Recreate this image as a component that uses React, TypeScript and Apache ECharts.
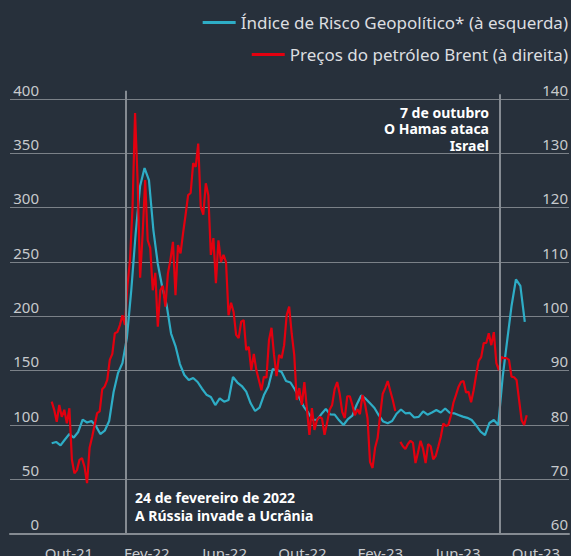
import React, { useEffect, useRef } from "react";
import * as echarts from "echarts";

// ---- data ----
const gprName = "Índice de Risco Geopolítico* (à esquerda)";
const brentName = "Preços do petróleo Brent (à direita)";
const xTickLabels = ["Out-21", "Fev-22", "Jun-22", "Out-22", "Fev-23", "Jun-23", "Out-23"];
const seriesStart = "2021-10-30";
const gprStepDays = 7;
const brentStepDays = 4;

// Geopolitical risk index (left axis), weekly
const gprValues = [
  83.2, 84.4, 81.2, 86.7, 91.7, 88.5, 93.6, 105, 102.3, 103.7,
  99.1, 91.7, 94.8, 103.7, 130.4, 147.9, 157, 180, 224, 276.7,
  320, 336.5, 325.4, 279.4, 248.2, 227, 210.4, 184.2, 172.7, 156.1,
  146, 141.4, 143.3, 139.6, 133.4, 127.9, 125.8, 118.4, 124.6, 121.5,
  123, 144.2, 139.1, 135.9, 130.7, 120, 112.9, 116.1, 127.6, 135.4,
  151.5, 150.6, 148.8, 140.5, 139.1, 132.7, 125.1, 117, 111.5, 104.9,
  104.6, 110.1, 114.7, 109.7, 109.6, 104.3, 100, 105.5, 108.6, 118.9,
  127.2, 124.2, 120.1, 115.7, 108.8, 103.2, 101.7, 103.7, 110.4, 114.3,
  110.8, 111.1, 106.9, 107.5, 112.5, 109.5, 111.5, 113.8, 111.5, 115.2,
  111.3, 110.8, 109.2, 107.7, 106.6, 104.6, 99.6, 94, 90.8, 101.9,
  104.6, 100, 144.2, 177.3, 209.5, 234, 228, 195,
];

// Brent oil price, USD (right axis), every 4 days
const brentValues = [
  84.3, 82.8, 80.6, 83.7, 81.5, 82.8, 80.3, 83.1, 73.6, 71.1,
  71.7, 73.6, 73.9, 72.3, 69.3, 75.8, 77.8, 80.0, 82.2, 82.5,
  86.6, 87.1, 88.3, 92.0, 93.1, 96.9, 97.1, 98.4, 100.2, 98.4,
  105.8, 110.4, 120.1, 137.4, 125.1, 107.1, 115.2, 125.1, 114.0, 112.6,
  104.8, 108.0, 98.1, 104.8, 105.6, 101.8, 107.9, 110.4, 113.7, 103.9,
  113.1, 111.6, 115.3, 118.7, 122.3, 122.7, 128.2, 127.5, 131.8, 120.2,
  118.7, 124.5, 122.3, 111.3, 114.4, 106.1, 114.0, 110.0, 111.3, 110.0,
  100.2, 102.5, 100.8, 96.6, 96.0, 99.0, 99.3, 93.8, 94.4, 90.1,
  93.1, 90.1, 88.3, 86.4, 88.9, 88.7, 95.6, 97.9, 92.9, 89.0,
  92.9, 92.3, 94.7, 100.2, 101.8, 96.8, 92.9, 84.6, 86.8, 83.7,
  87.9, 83.1, 78.2, 83.1, 79.1, 80.9, 81.5, 81.2, 78.2, 80.4,
  82.8, 83.7, 86.6, 87.9, 85.7, 82.4, 81.3, 85.3, 85.3, 83.7,
  81.8, 82.9, 82.0, 85.5, 83.9, 81.3, 73.2, 72.1, 75.8, 77.6,
  81.8, 85.7, 86.8, 88.1, 86.3, 84.6, 82.6, null, 76.9, 76.1,
  75.6, 76.5, 77.1, 76.7, 73.0, 75.0, 77.1, 75.6, 73.0, 76.5,
  76.1, 73.7, 74.3, 76.0, 77.8, 80.3, 79.8, 80.0, 81.7, 84.1,
  85.5, 87.0, 87.9, 88.1, 86.0, 86.1, 84.2, 86.4, 89.2, 91.8,
  92.5, 95.1, 95.1, 96.9, 94.7, 97.1, 91.4, 90.1, 92.5, 92.3,
  92.3, 92.0, 88.9, 88.8, 88.3, 84.6, 80.9, 80.0, 81.8,
];

const events = [
  { date: "2022-02-24", text: "24 de fevereiro de 2022\nA Rússia invade a Ucrânia" },
  { date: "2023-10-07", text: "7 de outubro\nO Hamas ataca\nIsrael" },
];

// ---- styling ----
const BG = "#27303b";
const BLUE = "#2eadc6";
const RED = "#e3000f";
const GRID = "#7b8188";
const VLINE = "#858b92";
const LABEL = "#c7cacd";
const FONT = "'Noto Sans', 'Open Sans', sans-serif";
const DAY = 86400000;

const toTs = (s: string) => {
  const [y, m, d] = s.split("-").map(Number);
  return Date.UTC(y, m - 1, d);
};

export default function App() {
  const ref = useRef<HTMLDivElement>(null);

  useEffect(() => {
    if (!ref.current) return;
    const chart = echarts.init(ref.current, undefined, { renderer: "svg" });
    const t0 = toTs(seriesStart);
    const gprData = gprValues.map((v, i) => [t0 + i * gprStepDays * DAY, v]);
    const brentData = brentValues.map((v, i) => [t0 + i * brentStepDays * DAY, v]);
    const ev1 = toTs(events[0].date);
    const ev2 = toTs(events[1].date);
    const xMin = toTs("2021-08-25");
    const xMax = toTs("2024-01-27");

    chart.setOption({
      animation: false,
      backgroundColor: BG,
      textStyle: { fontFamily: FONT },
      legend: [
        {
          data: [gprName],
          right: 3,
          top: 14,
          padding: 0,
          icon: "rect",
          itemWidth: 33,
          itemHeight: 3,
          textStyle: { color: "#dcdee0", fontSize: 17, fontFamily: FONT },
        },
        {
          data: [brentName],
          right: 3,
          top: 46,
          padding: 0,
          icon: "rect",
          itemWidth: 33,
          itemHeight: 3,
          textStyle: { color: "#dcdee0", fontSize: 17, fontFamily: FONT },
        },
      ],
      grid: [
        { left: 10, right: 0, top: 99, height: 434.7 },
        { left: 69, width: 467, top: 533, height: 1 },
        { left: 10, right: 0, top: 90.7, height: 443 },
      ],
      xAxis: [
        {
          type: "time",
          gridIndex: 0,
          min: xMin,
          max: xMax,
          axisLabel: { show: false },
          axisTick: { show: false },
          splitLine: { show: false },
          axisLine: { show: true, lineStyle: { color: VLINE, width: 2 } },
        },
        {
          type: "value",
          gridIndex: 1,
          min: 0,
          max: xTickLabels.length - 1,
          interval: 1,
          axisLine: { show: false },
          axisTick: { show: false },
          splitLine: { show: false },
          axisLabel: {
            margin: 12,
            color: LABEL,
            fontSize: 15,
            fontFamily: FONT,
            showMinLabel: true,
            showMaxLabel: true,
            formatter: (v: number) => xTickLabels[Math.round(v)] ?? "",
          },
        },
        {
          type: "time",
          gridIndex: 2,
          min: xMin,
          max: xMax,
          show: false,
        },
      ],
      yAxis: [
        {
          type: "value",
          gridIndex: 0,
          position: "left",
          min: 0,
          max: 400,
          interval: 50,
          axisLine: { show: false },
          axisTick: { show: false },
          splitLine: { show: true, lineStyle: { color: GRID, width: 1.2 } },
          axisLabel: {
            inside: true,
            margin: 29,
            align: "right",
            verticalAlign: "bottom",
            padding: [0, 0, 2, 0],
            color: LABEL,
            fontSize: 15,
            fontFamily: FONT,
          },
        },
        {
          type: "value",
          gridIndex: 0,
          position: "right",
          min: 60,
          max: 140,
          interval: 10,
          axisLine: { show: false },
          axisTick: { show: false },
          splitLine: { show: false },
          axisLabel: {
            inside: true,
            margin: 1,
            align: "right",
            verticalAlign: "bottom",
            padding: [0, 0, 2, 0],
            color: LABEL,
            fontSize: 15,
            fontFamily: FONT,
          },
        },
        { type: "value", gridIndex: 1, show: false },
        { type: "value", gridIndex: 2, min: 0, max: 443, show: false },
      ],
      series: [
        {
          name: "eventLines",
          type: "line",
          xAxisIndex: 2,
          yAxisIndex: 3,
          data: [],
          silent: true,
          markLine: {
            silent: true,
            symbol: "none",
            label: { show: false },
            lineStyle: { color: VLINE, width: 2, type: "solid" },
            data: [
              [{ coord: [ev1, 0] }, { coord: [ev1, 443] }],
              [{ coord: [ev2, 0] }, { coord: [ev2, 439.5] }],
            ],
          },
        },
        {
          name: gprName,
          type: "line",
          xAxisIndex: 0,
          yAxisIndex: 0,
          showSymbol: false,
          color: BLUE,
          lineStyle: { color: BLUE, width: 2.2 },
          data: gprData,
        },
        {
          name: brentName,
          type: "line",
          xAxisIndex: 0,
          yAxisIndex: 1,
          showSymbol: false,
          connectNulls: false,
          color: RED,
          lineStyle: { color: RED, width: 2.2 },
          data: brentData,
        },
      ],
      graphic: [
        {
          type: "text",
          x: 135,
          y: 488,
          style: {
            text: events[0].text,
            fill: "#ffffff",
            font: `bold 14px ${FONT}`,
            lineHeight: 18,
            align: "left",
            verticalAlign: "top",
          },
        },
        {
          type: "text",
          x: 489,
          y: 104,
          style: {
            text: events[1].text,
            fill: "#ffffff",
            font: `bold 14px ${FONT}`,
            lineHeight: 16.5,
            align: "right",
            textAlign: "right",
            verticalAlign: "top",
          },
        },
      ],
    });
    return () => chart.dispose();
  }, []);

  return (
    <div
      ref={ref}
      style={{ position: "fixed", left: 0, top: 0, width: 571, height: 556, background: BG }}
    />
  );
}
